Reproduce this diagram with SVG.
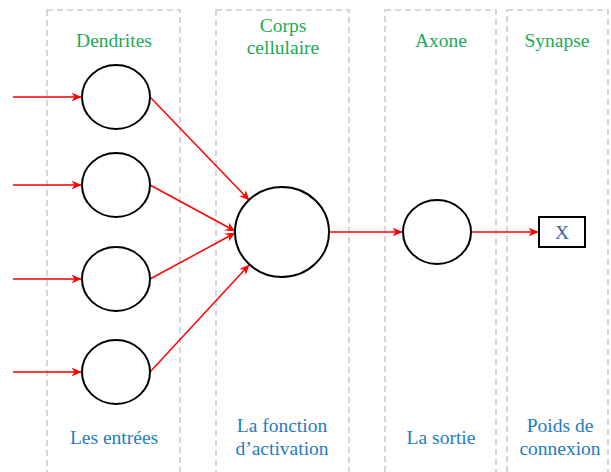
<svg xmlns="http://www.w3.org/2000/svg" width="611" height="472" viewBox="0 0 611 472">
<style>
.col{fill:none;stroke:#cccccc;stroke-width:1.6;stroke-dasharray:6,4}
.node{fill:#ffffff;stroke:#000000;stroke-width:2}
.edge{stroke:#ff0000;stroke-width:1.5;fill:none;marker-end:url(#arr)}
text{font-family:'Liberation Serif','DejaVu Serif',serif;font-size:19.5px;text-anchor:middle}
.g{fill:#1aab55}
.b{fill:#1f7cc4}
</style>
<defs>
<marker id="arr" viewBox="0 0 10 10" refX="9.5" refY="5" markerWidth="10" markerHeight="10" markerUnits="userSpaceOnUse" orient="auto">
<path d="M0,0.5 L10,5 L0,9.5 L3,5 Z" fill="#ff0000"/>
</marker>
</defs>
<g id="columns">
<rect class="col" x="47" y="10" width="133" height="470"/>
<rect class="col" x="216" y="10" width="133" height="470"/>
<rect class="col" x="385" y="10" width="111" height="470"/>
<rect class="col" x="507" y="10" width="101" height="470"/>
</g>
<g id="connectors">
<line class="edge" x1="13" y1="97" x2="81" y2="97"/>
<line class="edge" x1="13" y1="185" x2="81" y2="185"/>
<line class="edge" x1="13" y1="279" x2="81" y2="279"/>
<line class="edge" x1="13" y1="372" x2="81" y2="372"/>
<line class="edge" x1="150" y1="97" x2="249" y2="200"/>
<line class="edge" x1="150" y1="185" x2="235" y2="231"/>
<line class="edge" x1="150" y1="279" x2="235" y2="233"/>
<line class="edge" x1="150" y1="372" x2="249" y2="265"/>
<line class="edge" x1="329" y1="232" x2="402" y2="232"/>
<line class="edge" x1="471" y1="232" x2="538" y2="232"/>
</g>
<g id="d1"><ellipse class="node" cx="116" cy="97" rx="34" ry="32"/></g>
<g id="d2"><ellipse class="node" cx="116" cy="185" rx="34" ry="32"/></g>
<g id="d3"><ellipse class="node" cx="116" cy="279" rx="34" ry="32"/></g>
<g id="d4"><ellipse class="node" cx="116" cy="372" rx="34" ry="32"/></g>
<g id="corps"><ellipse class="node" cx="282" cy="232" rx="47" ry="45"/></g>
<g id="axone"><ellipse class="node" cx="437" cy="232" rx="34" ry="32"/></g>
<g id="synapse"><rect class="node" x="539" y="217" width="46" height="30"/>
<text x="562" y="239" fill="#3f63a0">X</text></g>
<g id="labels">
<text class="g" x="114" y="47">Dendrites</text>
<text class="g" x="283" y="32">Corps</text>
<text class="g" x="283" y="54">cellulaire</text>
<text class="g" x="441" y="47">Axone</text>
<text class="g" x="557" y="47">Synapse</text>
<text class="b" x="114" y="444">Les entrées</text>
<text class="b" x="282" y="432">La fonction</text>
<text class="b" x="282" y="455">d’activation</text>
<text class="b" x="441" y="444">La sortie</text>
<text class="b" x="560" y="432">Poids de</text>
<text class="b" x="560" y="455">connexion</text>
</g>
</svg>
